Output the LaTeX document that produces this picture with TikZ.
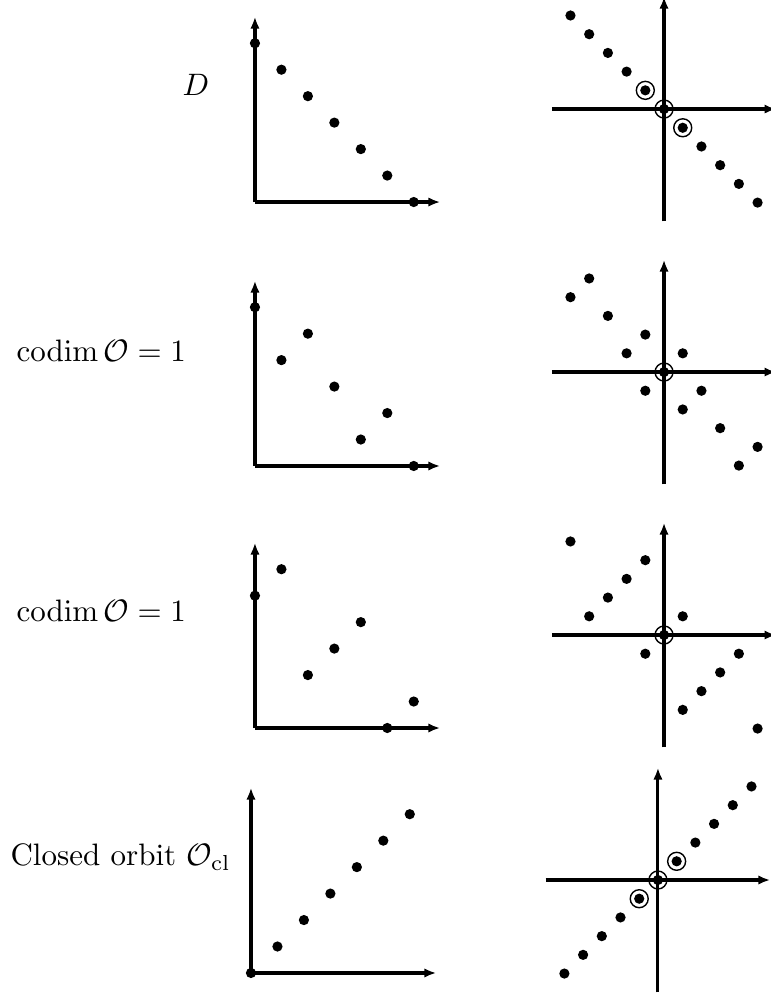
\documentclass[tikz,border=0pt]{standalone}
\usepackage{amsmath}
\usetikzlibrary{arrows.meta}

\begin{document}
\begin{tikzpicture}[dot/.style={circle,fill,inner sep=0pt,minimum size=3.3pt},
    ring/.style={circle,draw,line width=0.45pt,inner sep=0pt,minimum size=5.8pt},
    axis/.style={line width=1pt,-{Latex[length=3.8pt,width=3pt]}},
    lbl/.style={anchor=base west,inner sep=0pt}]
	   \useasboundingbox (0,0) rectangle (8.739,-11.256);
	   % row labels
	   \node[lbl] (lD)   at (2.063,-1.077) {$D$};
	   \node[lbl] (lc1)  at (0.181,-4.092) {$\operatorname{codim}\mathcal{O}=1$};
	   \node[lbl] (lc2)  at (0.181,-7.050) {$\operatorname{codim}\mathcal{O}=1$};
	   \node[lbl] (lcl)  at (0.113,-9.816) {Closed orbit $\mathcal{O}_{\mathrm{cl}}$};
	   % weights, left column
	   \foreach \r/\sx/\sy/\ws in {1/2.890/-2.290/{6,5,4,3,2,1,0},
	                               2/2.890/-5.282/{6,4,5,3,1,2,0},
	                               3/2.890/-8.252/{5,6,2,3,4,0,1},
	                               4/2.845/-11.029/{0,1,2,3,4,5,6}}{
	     \begin{scope}[shift={(\sx cm,\sy cm)},x=0.3cm,y=0.3cm]
	       \coordinate (o\r) at (0,0);
	       \coordinate (x\r) at (7,0);
	       \coordinate (y\r) at (0,7);
	       \draw[axis] (o\r) -- (x\r);
	       \draw[axis] (o\r) -- (y\r);
	       \foreach \a [count=\i from 0] in \ws
	         \node[dot] (w\r-\i) at (\i,\a) {};
	     \end{scope}
	   }
	   % differences, right column
	   \foreach \r/\sx/\sy/\ds/\cs in {
	       1/7.527/-1.236/{-5/5,-4/4,-3/3,-2/2,-1/1,0/0,1/-1,2/-2,3/-3,4/-4,5/-5}/{-1/1,0/0,1/-1},
	       2/7.527/-4.217/{-5/4,-4/5,-3/3,-2/1,-1/2,0/0,1/1,-1/-1,2/-1,1/-2,3/-3,5/-4,4/-5}/{0/0},
	       3/7.527/-7.198/{-5/5,-1/4,-2/3,-3/2,-4/1,0/0,1/1,-1/-1,4/-1,3/-2,2/-3,1/-4,5/-5}/{0/0},
	       4/7.458/-9.975/{-5/-5,-4/-4,-3/-3,-2/-2,-1/-1,0/0,1/1,2/2,3/3,4/4,5/5}/{-1/-1,0/0,1/1}}{
	     \begin{scope}[shift={(\sx cm,\sy cm)},x=0.2121cm,y=0.2121cm]
	       \coordinate (m\r) at (0,0);
	       \coordinate (w\r) at (-6,0);
	       \coordinate (e\r) at (6,0);
	       \coordinate (s\r) at (0,-6);
	       \coordinate (n\r) at (0,6);
	       \draw[axis] (w\r) -- (e\r);
	       \draw[axis] (s\r) -- (n\r);
	       \foreach \u/\v [count=\k] in \ds
	         \node[dot] (d\r-\k) at (\u,\v) {};
	       \foreach \u/\v [count=\k] in \cs
	         \node[ring] (c\r-\k) at (\u,\v) {};
	     \end{scope}
	   }
	\end{tikzpicture}
\end{document}
